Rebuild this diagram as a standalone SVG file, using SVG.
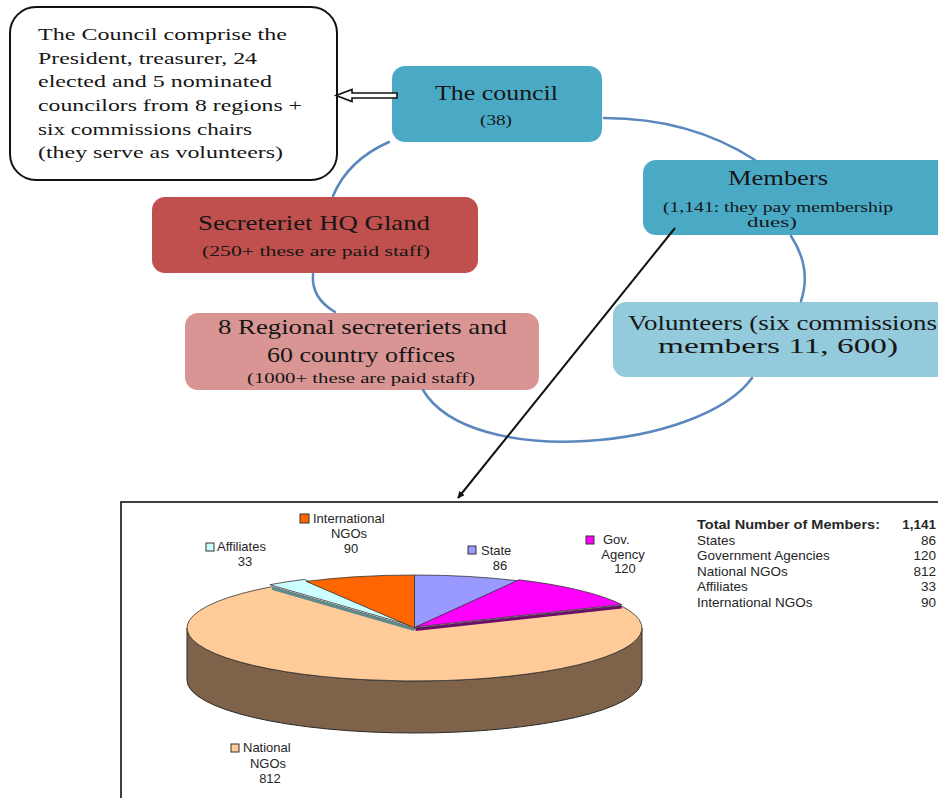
<svg xmlns="http://www.w3.org/2000/svg" width="938" height="798" viewBox="0 0 938 798">
<defs>
<marker id="ah" viewBox="0 0 10 10" refX="9" refY="5" markerWidth="7" markerHeight="7" markerUnits="userSpaceOnUse" orient="auto">
<path d="M0,0 L10,5 L0,10 Z" fill="#111"/>
</marker>
<style>
.serif{font-family:"Liberation Serif","Times New Roman",serif;fill:#161616}
.sans{font-family:"Liberation Sans",Arial,sans-serif;fill:#262626}
.arc{fill:none;stroke:#5a87bd;stroke-width:2.5;stroke-linecap:round}
.box{stroke:none}
.sq{stroke:#333;stroke-width:1}
.wedge{stroke:#333;stroke-width:0.8;stroke-linejoin:round}
</style>
</defs>
<rect width="938" height="798" fill="#fff"/>

<g id="callout">
<rect x="10" y="7" width="327" height="173" rx="26" fill="#fff" stroke="#111" stroke-width="2"/>
<g class="serif" font-size="17.5">
<text x="38" y="40" textLength="249" lengthAdjust="spacingAndGlyphs">The Council comprise the</text>
<text x="38" y="63.5" textLength="219" lengthAdjust="spacingAndGlyphs">President, treasurer, 24</text>
<text x="38" y="87" textLength="234" lengthAdjust="spacingAndGlyphs">elected and 5 nominated</text>
<text x="38" y="111" textLength="264" lengthAdjust="spacingAndGlyphs">councilors from 8 regions +</text>
<text x="38" y="134.5" textLength="214" lengthAdjust="spacingAndGlyphs">six commissions chairs</text>
<text x="38" y="158" textLength="245" lengthAdjust="spacingAndGlyphs">(they serve as volunteers)</text>
</g>
</g>

<g id="council">
<rect class="box" x="392" y="66" width="210" height="76" rx="13" fill="#4aaac6"/>
<text class="serif" x="435" y="100" font-size="22" textLength="123" lengthAdjust="spacingAndGlyphs">The council</text>
<text class="serif" x="480" y="125" font-size="15" textLength="32" lengthAdjust="spacingAndGlyphs">(38)</text>
</g>

<g id="members">
<rect class="box" x="643" y="160" width="320" height="75" rx="13" fill="#4aaac6"/>
<text class="serif" x="728" y="185" font-size="20" textLength="100" lengthAdjust="spacingAndGlyphs">Members</text>
<text class="serif" x="663" y="212" font-size="15" textLength="230" lengthAdjust="spacingAndGlyphs">(1,141: they pay membership</text>
<text class="serif" x="747" y="227" font-size="14" textLength="50" lengthAdjust="spacingAndGlyphs">dues)</text>
</g>

<g id="secretariat">
<rect class="box" x="152" y="197" width="326" height="76" rx="13" fill="#c0504d"/>
<text class="serif" x="198" y="230" font-size="21" textLength="232" lengthAdjust="spacingAndGlyphs">Secreteriet HQ Gland</text>
<text class="serif" x="202" y="256" font-size="15.5" textLength="228" lengthAdjust="spacingAndGlyphs">(250+ these are paid staff)</text>
</g>

<g id="regional">
<rect class="box" x="185" y="313" width="354" height="77" rx="13" fill="#d99594"/>
<text class="serif" x="218" y="334" font-size="21" textLength="289" lengthAdjust="spacingAndGlyphs">8 Regional secreteriets and</text>
<text class="serif" x="267" y="362" font-size="21" textLength="188" lengthAdjust="spacingAndGlyphs">60 country offices</text>
<text class="serif" x="247" y="383" font-size="15" textLength="228" lengthAdjust="spacingAndGlyphs">(1000+ these are paid staff)</text>
</g>

<g id="volunteers">
<rect class="box" x="613" y="302" width="350" height="75" rx="13" fill="#93cbdc"/>
<text class="serif" x="628" y="330" font-size="20" textLength="309" lengthAdjust="spacingAndGlyphs">Volunteers (six commissions</text>
<text class="serif" x="658" y="353" font-size="20" textLength="240" lengthAdjust="spacingAndGlyphs">members 11, 600)</text>
</g>

<g id="chart">
<rect x="121" y="502" width="900" height="400" fill="#fff" stroke="#111" stroke-width="1.6"/>
<path d="M187,628 L187,680 A227.5,53 0 0 0 642,680 L642,628 A227.5,53 0 0 1 187,628 Z" fill="#7e6249" stroke="#2a2a2a" stroke-width="1"/>
<path class="wedge" d="M414.5,628 L620.7,605.6 A227.5,53 0 1 1 271.9,586.7 Z" fill="#ffcc99"/>
<path d="M414.5,629.5 L271.9,588.2" stroke="#5e8a8c" stroke-width="3.2" fill="none"/>
<path class="wedge" d="M412.5,626 L269.9,584.7 A227.5,53 0 0 1 304.2,579.4 Z" fill="#ccffff"/>
<path class="wedge" d="M414.5,628 L306.2,581.4 A227.5,53 0 0 1 414.5,575 Z" fill="#ff6600"/>
<path class="wedge" d="M414.5,628 L414.5,575 A227.5,53 0 0 1 518.1,580.8 Z" fill="#9999ff"/>
<path d="M415.5,629.5 L621.7,607" stroke="#6a106a" stroke-width="3" fill="none"/>
<path class="wedge" d="M415.5,627 L519.1,579.8 A227.5,53 0 0 1 621.7,604.6 Z" fill="#ff00ff"/>
<g class="sans" font-size="13">
<rect class="sq" x="206" y="543" width="8" height="8" fill="#ccffff"/>
<text x="217" y="551">Affiliates</text>
<text x="245" y="566" text-anchor="middle">33</text>
<rect class="sq" x="300" y="514" width="9" height="9" fill="#ff6600"/>
<text x="313" y="523">International</text>
<text x="349" y="538" text-anchor="middle">NGOs</text>
<text x="351" y="553" text-anchor="middle">90</text>
<rect class="sq" x="468" y="546" width="8" height="8" fill="#9999ff"/>
<text x="481" y="555">State</text>
<text x="500" y="570" text-anchor="middle">86</text>
<rect class="sq" x="586" y="536" width="8" height="8" fill="#ff00ff"/>
<text x="603" y="544">Gov.</text>
<text x="623" y="558.5" text-anchor="middle">Agency</text>
<text x="625" y="573" text-anchor="middle">120</text>
<rect class="sq" x="231" y="744" width="8" height="8" fill="#ffcc99"/>
<text x="243" y="752">National</text>
<text x="268" y="767.5" text-anchor="middle">NGOs</text>
<text x="270" y="783" text-anchor="middle">812</text>
</g>
<g class="sans" font-size="13.5">
<text x="697" y="528.5" font-weight="bold" textLength="183" lengthAdjust="spacingAndGlyphs">Total Number of Members:</text>
<text x="936" y="528.5" font-weight="bold" text-anchor="end">1,141</text>
<text x="697" y="544.5">States</text><text x="936" y="544.5" text-anchor="end">86</text>
<text x="697" y="560">Government Agencies</text><text x="936" y="560" text-anchor="end">120</text>
<text x="697" y="575.5">National NGOs</text><text x="936" y="575.5" text-anchor="end">812</text>
<text x="697" y="591">Affiliates</text><text x="936" y="591" text-anchor="end">33</text>
<text x="697" y="606.5">International NGOs</text><text x="936" y="606.5" text-anchor="end">90</text>
</g>
</g>

<g id="connectors">
<path class="arc" d="M604,118 Q690,118 755,160"/>
<path class="arc" d="M791,236 Q812,268 801,301"/>
<path class="arc" d="M752,378 C700,450 470,470 423,390"/>
<path class="arc" d="M335,312 Q311,298 313,274"/>
<path class="arc" d="M333,196 Q348,160 389,142"/>
<polygon points="336,95.5 352,89.5 352,93 397,93 397,98 352,98 352,101.5" fill="#fff" stroke="#111" stroke-width="1.6" stroke-linejoin="miter"/>
<line x1="675" y1="228" x2="458" y2="498" stroke="#111" stroke-width="2" marker-end="url(#ah)"/>
</g>
</svg>
